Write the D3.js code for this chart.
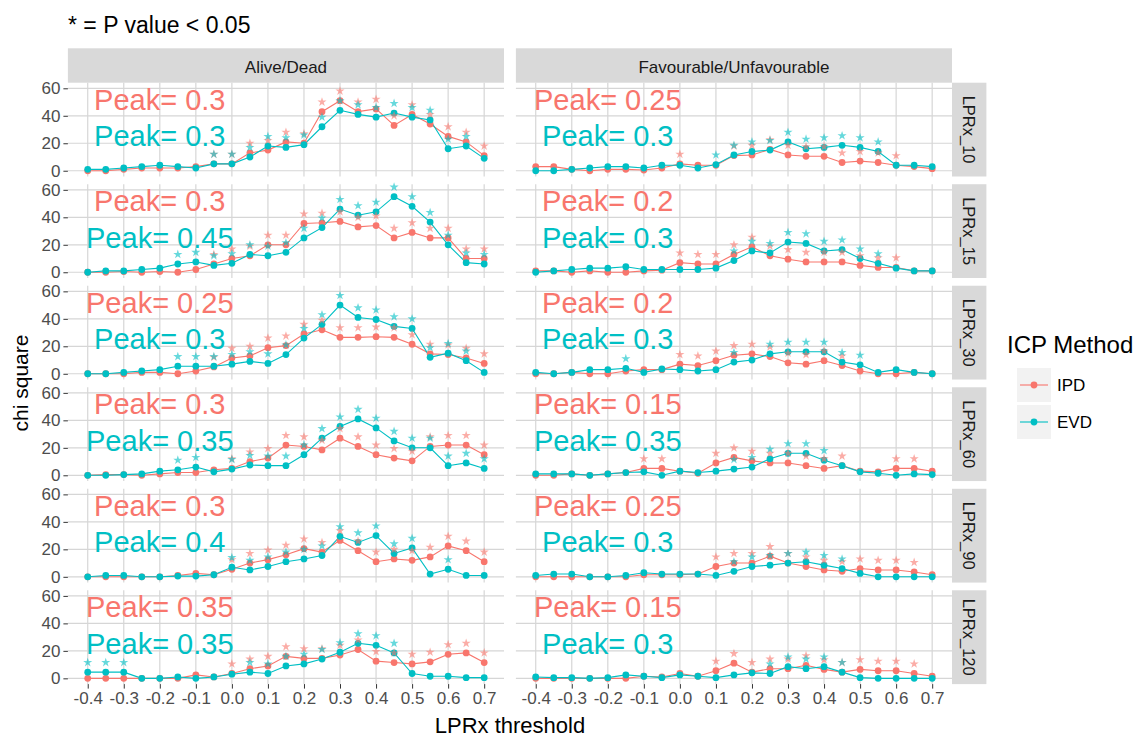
<!DOCTYPE html>
<html><head><meta charset="utf-8">
<script src="https://cdn.jsdelivr.net/npm/d3@7"></script>
<style>
html,body{margin:0;padding:0;background:#fff;}
svg{display:block;font-family:"Liberation Sans",Arial,sans-serif;}
</style></head>
<body><svg id="chart" width="1142" height="738"></svg>
<script>
// ---------- data ----------
const thresholds = [-0.4,-0.35,-0.3,-0.25,-0.2,-0.15,-0.1,-0.05,0,0.05,0.1,0.15,0.2,0.25,0.3,0.35,0.4,0.45,0.5,0.55,0.6,0.65,0.7];
const xTicks = [-0.4,-0.3,-0.2,-0.1,0,0.1,0.2,0.3,0.4,0.5,0.6,0.7];
const xTickLabels = ["-0.4","-0.3","-0.2","-0.1","0.0","0.1","0.2","0.3","0.4","0.5","0.6","0.7"];
const yTicks = [0,20,40,60];
const outcomes = ["Alive/Dead","Favourable/Unfavourable"];
const windows = ["LPRx_10","LPRx_15","LPRx_30","LPRx_60","LPRx_90","LPRx_120"];
const methods = ["IPD","EVD"];
const methodColors = ["#F8766D","#00BFC4"];

// chi square values, Alive/Dead
const AD10_IPD  = [0,0,1,2,2,2,3,5,5,13,15,21,20,43,51,43,45,33,41,34,25,21,11];
const AD10_EVD  = [1,1,2,3,4,3,2,5,5,10,18,17,19,32,44,41,39,42,39,37,16,18,9];
const AD15_IPD  = [0,0,0.5,0,0.5,0,2,6,10,12,20,20,35.5,36,37,33,34,25,29,25,25,10,10];
const AD15_EVD  = [0,1,1,2,3,6,7.5,5,6.5,13,12,14.5,25,32.5,46,41.5,44,55,48,36.5,20,7,6];
const AD30_IPD  = [0,0,0,1,1,0,2,5,11.5,13,19,20.5,29,32,26.5,26.5,27,26.5,21.5,14.5,14,11.5,7.5];
const AD30_EVD  = [0,0,1,2,3,5.5,5.5,5.5,7,9,7.5,14,26,36,50,41,39.5,34.5,33,12,15,9.5,1];
const AD60_IPD  = [0,0.5,0.5,0,1,2,2,4,5,10,12.5,22,21,18.5,27,21,15,12.5,10.5,21,22,22,15];
const AD60_EVD  = [0,0,0.5,1,3,4,6,2.5,4.5,7.5,7,7,15,27,35.5,41,34.5,25,20,20,7,9,5];
const AD90_IPD  = [0,0,0,0,0,1,2.5,1.5,5.5,10,12.5,16,20.5,18,26.5,19,11,13,12,14.5,22.5,19,11];
const AD90_EVD  = [0,1,1,0,0,0.5,0.5,1.5,7,5,7.5,11,13,15.5,29.5,25,30,17,21,2,5.5,1,1];
const AD120_IPD = [0,0,0,0,0,0,2.5,1,3.5,7,9,16,14.5,14.5,17,21,12.5,11.5,10.5,12,17.5,18.5,11.5];
const AD120_EVD = [4.5,4.5,4.5,0,0,1,0,1,3,4.5,3.5,9,10.5,14,19,25.5,24,18.5,3.5,1.5,1.5,0.5,0.5];
// chi square values, Favourable/Unfavourable
const FU10_IPD  = [3,3,1,0,1,1,0.5,2,5,4,4,11,11.5,15.5,11.5,10.5,10.5,6,7,6,4,3,1.5];
const FU10_EVD  = [0,0,1,2,3,3,2,4,4,2,4.5,11.5,14,15,21,16,17,18.5,17,14,4,4,3];
const FU15_IPD  = [1,1,0,1,0,0,1,1.5,7,6,6,13,18.5,12,9.5,7.5,7.5,7.5,5,3.5,3.5,1,1];
const FU15_EVD  = [0,1,2,3,3,4,2,2,2,2,3,8.5,15.5,14,22,21,15.5,16.5,10,6.5,3,1,1];
const FU30_IPD  = [0,0,1,0,0,2,3,3,7,6,9.5,13.5,14.5,12.5,8,7,9.5,6,2,0,0,1,0];
const FU30_EVD  = [1,0,1,3,3,4,1,3.5,3,2,3,8.5,10,14.5,16,16,16,8.5,6.5,1,3,1,0];
const FU60_IPD  = [0,0,1,0,1,2,5,5,3,1.5,9,13,10.5,9,9,7,5,7,3,2.5,5,5,3];
const FU60_EVD  = [1,1,1,0,1,2,2.5,0,3,2,3,4.5,6,12,16,16,11,7,2.5,1.5,0,1,0.5];
const FU90_IPD  = [0,0,0,0,0,0,1.5,1.5,1.5,2,7.5,10,10,15,10,7.5,5,4,6,5,5,3.5,1.5];
const FU90_EVD  = [1,2,2,0,0,1,3,2,2,2,1,4,7.5,8.5,10,11,8.5,6,2.5,0,0,0,0];
const FU120_IPD = [0,0,0,0,0,0,1.5,1,3.5,1.5,5.5,11,4.5,7,7,9.5,6.5,4.5,6.5,5.5,5.5,3.5,1.5];
const FU120_EVD = [1,0.5,0.5,0,0.5,2.5,1.5,0.5,2.5,1.5,0.5,2.5,4,3.5,8.5,7,8.5,4.5,0.5,0,0,0,0];

// significance flags (1 = P value < 0.05), one character per threshold
const AD10_IPD_sig  = "00000001111111111111111";
const AD10_EVD_sig  = "00000001111111111111110";
const AD15_IPD_sig  = "00000001111111111111111";
const AD15_EVD_sig  = "00000111111111111111111";
const AD30_IPD_sig  = "00000001111111111111111";
const AD30_EVD_sig  = "00000111111111111111110";
const AD60_IPD_sig  = "00000000111111111111111";
const AD60_EVD_sig  = "00000110111111111111111";
const AD90_IPD_sig  = "00000000111111111111111";
const AD90_EVD_sig  = "00000000111111111110100";
const AD120_IPD_sig = "00000000111111111111111";
const AD120_EVD_sig = "11100000011111111100000";
const FU10_IPD_sig  = "00000000100111111111100";
const FU10_EVD_sig  = "00000000001111111111000";
const FU15_IPD_sig  = "00000000111111111111100";
const FU15_EVD_sig  = "00000000000111111111000";
const FU30_IPD_sig  = "00000000111111111100000";
const FU30_EVD_sig  = "00000100000101111110000";
const FU60_IPD_sig  = "00000011001111111100110";
const FU60_EVD_sig  = "00000000000111111000000";
const FU90_IPD_sig  = "00000000001111111111110";
const FU90_EVD_sig  = "00000000000111111100000";
const FU120_IPD_sig = "00000000001111111111110";
const FU120_EVD_sig = "00000000000001111100000";

// peak thresholds per window
const peakIPD_AD = ["0.3","0.3","0.25","0.3","0.3","0.35"];
const peakEVD_AD = ["0.3","0.45","0.3","0.35","0.4","0.35"];
const peakIPD_FU = ["0.25","0.2","0.2","0.15","0.25","0.15"];
const peakEVD_FU = ["0.3","0.3","0.3","0.35","0.3","0.3"];

// ---------- assemble ----------
const valueTable = {
  "Alive/Dead": {IPD:[AD10_IPD,AD15_IPD,AD30_IPD,AD60_IPD,AD90_IPD,AD120_IPD], EVD:[AD10_EVD,AD15_EVD,AD30_EVD,AD60_EVD,AD90_EVD,AD120_EVD]},
  "Favourable/Unfavourable": {IPD:[FU10_IPD,FU15_IPD,FU30_IPD,FU60_IPD,FU90_IPD,FU120_IPD], EVD:[FU10_EVD,FU15_EVD,FU30_EVD,FU60_EVD,FU90_EVD,FU120_EVD]}
};
const sigTable = {
  "Alive/Dead": {IPD:[AD10_IPD_sig,AD15_IPD_sig,AD30_IPD_sig,AD60_IPD_sig,AD90_IPD_sig,AD120_IPD_sig], EVD:[AD10_EVD_sig,AD15_EVD_sig,AD30_EVD_sig,AD60_EVD_sig,AD90_EVD_sig,AD120_EVD_sig]},
  "Favourable/Unfavourable": {IPD:[FU10_IPD_sig,FU15_IPD_sig,FU30_IPD_sig,FU60_IPD_sig,FU90_IPD_sig,FU120_IPD_sig], EVD:[FU10_EVD_sig,FU15_EVD_sig,FU30_EVD_sig,FU60_EVD_sig,FU90_EVD_sig,FU120_EVD_sig]}
};
const peakTable = {
  "Alive/Dead": {IPD:peakIPD_AD, EVD:peakEVD_AD},
  "Favourable/Unfavourable": {IPD:peakIPD_FU, EVD:peakEVD_FU}
};

// ---------- layout ----------
const svg = d3.select("#chart");
const FONT = "Liberation Sans, Arial, sans-serif";
const colX = [67.9, 515.9];
const panelW = 436.1;
const rowTop0 = 82.7, rowPitch = 101.52, panelH = 93.8;
const stripH = 34.4, stripW = 34.4;
const gridCol = "#D6D6D6";
const axisTextCol = "#4D4D4D";
const starOffset = 7;

svg.append("text").attr("x",68).attr("y",33).attr("font-size",23).attr("fill","#000")
  .text("* = P value < 0.05");

outcomes.forEach((oc, c) => {
  const x0 = colX[c];
  const x = d3.scaleLinear().domain([-0.455, 0.755]).range([x0, x0 + panelW]);
  // top strip
  svg.append("rect").attr("x",x0).attr("y",rowTop0-stripH).attr("width",panelW).attr("height",stripH).attr("fill","#D9D9D9");
  svg.append("text").attr("x",x0+panelW/2).attr("y",rowTop0-stripH/2+1).attr("dy","0.36em")
    .attr("text-anchor","middle").attr("font-size",17).attr("fill","#1A1A1A").text(oc);

  windows.forEach((win, r) => {
    const top = rowTop0 + r*rowPitch;
    const y = d3.scaleLinear().domain([-4.2, 64.08]).range([top+panelH, top]);
    const g = svg.append("g");
    // grid
    g.selectAll("line.gx").data(xTicks).enter().append("line")
      .attr("x1",d=>x(d)).attr("x2",d=>x(d)).attr("y1",top).attr("y2",top+panelH)
      .attr("stroke",gridCol).attr("stroke-width",1.2);
    g.selectAll("line.gy").data(yTicks).enter().append("line")
      .attr("x1",x0).attr("x2",x0+panelW).attr("y1",d=>y(d)).attr("y2",d=>y(d))
      .attr("stroke",gridCol).attr("stroke-width",1.2);

    // y axis on left column
    if (c === 0) {
      const ax = svg.append("g").attr("transform",`translate(${x0},0)`)
        .call(d3.axisLeft(y).tickValues(yTicks).tickSize(4.5).tickPadding(3));
      ax.select(".domain").remove();
      ax.selectAll(".tick line").attr("stroke","#333").attr("stroke-width",1);
      ax.selectAll(".tick text").attr("font-size",17).attr("fill",axisTextCol).attr("font-family",FONT);
    }
    // right strip
    if (c === 1) {
      const sx = x0 + panelW;
      svg.append("rect").attr("x",sx).attr("y",top).attr("width",stripW).attr("height",panelH).attr("fill","#D9D9D9");
      svg.append("text").attr("transform",`translate(${sx+stripW/2},${top+panelH/2}) rotate(90)`)
        .attr("dy","0.36em").attr("text-anchor","middle").attr("font-size",16.5).attr("fill","#1A1A1A").text(win);
    }
    // x axis on bottom row
    if (r === windows.length-1) {
      const ax = svg.append("g").attr("transform",`translate(0,${top+panelH})`)
        .call(d3.axisBottom(x).tickValues(xTicks).tickFormat((d,i)=>xTickLabels[i]).tickSize(4.5).tickPadding(3));
      ax.select(".domain").remove();
      ax.selectAll(".tick line").attr("stroke","#333").attr("stroke-width",1);
      ax.selectAll(".tick text").attr("font-size",17).attr("fill",axisTextCol).attr("font-family",FONT);
    }

    const line = d3.line().x((d,i)=>x(thresholds[i])).y(d=>y(d));
    methods.forEach((m, k) => {
      g.append("path").datum(valueTable[oc][m][r]).attr("d",line)
        .attr("fill","none").attr("stroke",methodColors[k]).attr("stroke-width",1.1);
    });
    methods.forEach((m, k) => {
      g.selectAll(null).data(valueTable[oc][m][r]).enter().append("circle")
        .attr("cx",(d,i)=>x(thresholds[i])).attr("cy",d=>y(d)).attr("r",3.4)
        .attr("fill",methodColors[k]);
    });
    const star = d3.symbol().type(d3.symbolStar).size(26);
    methods.forEach((m, k) => {
      const vals = valueTable[oc][m][r];
      const sig = sigTable[oc][m][r];
      const pts = vals.map((v,i)=>({v, i})).filter(d => sig[d.i] === "1");
      g.selectAll(null).data(pts).enter().append("path").attr("d",star)
        .attr("transform",d=>`translate(${x(thresholds[d.i])},${y(d.v+starOffset)})`)
        .attr("fill",methodColors[k]).attr("fill-opacity",0.6);
    });
    // peak labels
    g.append("text").attr("x",x(-0.2)).attr("y",y(44.5)).attr("text-anchor","middle")
      .attr("font-size",29).attr("fill",methodColors[0]).text("Peak= " + peakTable[oc].IPD[r]);
    g.append("text").attr("x",x(-0.2)).attr("y",y(18)).attr("text-anchor","middle")
      .attr("font-size",29).attr("fill",methodColors[1]).text("Peak= " + peakTable[oc].EVD[r]);
  });
});

// axis titles
svg.append("text").attr("x",510).attr("y",733).attr("text-anchor","middle").attr("font-size",22).attr("fill","#000").text("LPRx threshold");
svg.append("text").attr("transform","translate(28,383) rotate(-90)").attr("text-anchor","middle").attr("font-size",21).attr("fill","#000").text("chi square");

// legend
const lg = svg.append("g").attr("transform","translate(1007,0)");
lg.append("text").attr("x",0).attr("y",353).attr("font-size",24).attr("fill","#000").text("ICP Method");
methods.forEach((m,k) => {
  const cy = 385 + k*37;
  lg.append("rect").attr("x",10).attr("y",cy-17).attr("width",34).attr("height",34).attr("fill","#F2F2F2");
  lg.append("line").attr("x1",13).attr("x2",41).attr("y1",cy).attr("y2",cy).attr("stroke",methodColors[k]).attr("stroke-width",1.1);
  lg.append("circle").attr("cx",27).attr("cy",cy).attr("r",3.4).attr("fill",methodColors[k]);
  lg.append("text").attr("x",50).attr("y",cy).attr("dy","0.36em").attr("font-size",17).attr("fill","#000").text(m);
});
</script></body></html>
